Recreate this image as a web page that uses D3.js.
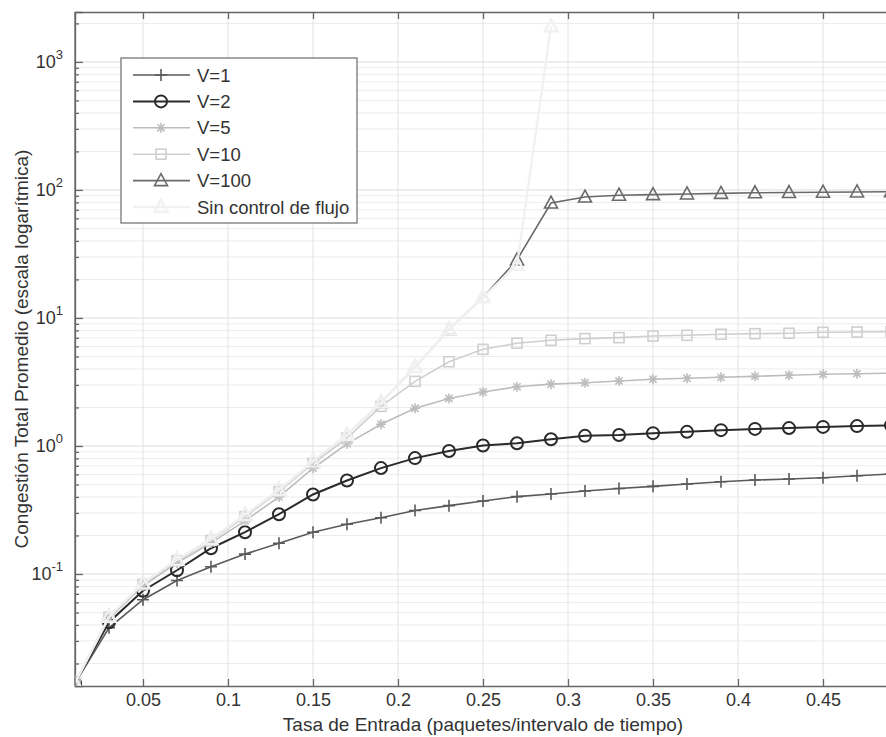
<!DOCTYPE html>
<html>
<head>
<meta charset="utf-8">
<script src="https://cdn.jsdelivr.net/npm/d3@7"></script>
<style>
  body { margin:0; background:#fff; }
  text { font-family: "Liberation Sans", Arial, sans-serif; fill:#333; }
</style>
</head>
<body>
<script>
// tasa de entrada (x) and congestion per V value
var xVals  = [0.01,0.03,0.05,0.07,0.09,0.11,0.13,0.15,0.17,0.19,0.21,0.23,0.25,0.27,0.29,0.31,0.33,0.35,0.37,0.39,0.41,0.43,0.45,0.47,0.49];
var v1     = [0.014,0.038,0.063,0.089,0.114,0.143,0.174,0.212,0.245,0.275,0.313,0.342,0.372,0.402,0.422,0.445,0.465,0.484,0.505,0.526,0.542,0.552,0.565,0.586,0.604];
var v2     = [0.014,0.042,0.074,0.107,0.159,0.212,0.293,0.418,0.538,0.672,0.804,0.914,1.01,1.05,1.13,1.2,1.22,1.26,1.29,1.33,1.36,1.38,1.41,1.43,1.45];
var v5     = [0.014,0.045,0.081,0.122,0.175,0.26,0.40,0.67,1.04,1.48,1.97,2.35,2.64,2.9,3.04,3.12,3.22,3.32,3.38,3.44,3.5,3.57,3.63,3.67,3.7];
var v10    = [0.014,0.046,0.083,0.127,0.183,0.28,0.44,0.73,1.15,2.04,3.2,4.55,5.69,6.35,6.69,6.9,7.02,7.23,7.32,7.46,7.54,7.6,7.73,7.77,7.8];
var v100   = [0.014,0.0464,0.0845,0.129,0.187,0.289,0.453,0.755,1.22,2.18,4.13,8.11,14.5,28.4,79,88,91,92,93,94,95,95.5,96,96.5,97];
var noCtrl = [0.014,0.0464,0.0845,0.129,0.187,0.289,0.453,0.755,1.22,2.18,4.13,8.11,14.5,26,1900];

var seriesNames = ["V=1","V=2","V=5","V=10","V=100","Sin control de flujo"];
var xTicks = [0.05,0.1,0.15,0.2,0.25,0.3,0.35,0.4,0.45];
var yTicks = [0.1,1,10,100,1000];

var width = 886, height = 737;
var margin = {left:75, right:-5, top:12, bottom:51};   // right edge of the axes falls outside the picture
var w = width - margin.left - margin.right;
var h = height - margin.top - margin.bottom;

var x = d3.scaleLinear().domain([0.01,0.49]).range([0,w]);
var y = d3.scaleLog().domain([0.01334,2455]).range([h,0]);

var svg = d3.select("body").append("svg").attr("width",width).attr("height",height);
svg.append("rect").attr("width",width).attr("height",height).attr("fill","#fff");

var g = svg.append("g").attr("transform","translate("+margin.left+","+margin.top+")");

g.append("clipPath").attr("id","clip").append("rect").attr("width",w).attr("height",h);

// minor values 2..9 in each decade
var minor = [];
[0.01,0.1,1,10,100,1000].forEach(function(d){
  for (var k=2;k<=9;k++){ var v=d*k; if (v>y.domain()[0] && v<y.domain()[1]) minor.push(v); }
});

// grid
var grid = g.append("g");
grid.selectAll(".gm").data(minor).enter().append("line")
    .attr("x1",0).attr("x2",w).attr("y1",function(d){return y(d);}).attr("y2",function(d){return y(d);})
    .attr("stroke","#ececec").attr("stroke-width",1);
grid.selectAll(".gy").data(yTicks).enter().append("line")
    .attr("x1",0).attr("x2",w).attr("y1",function(d){return y(d);}).attr("y2",function(d){return y(d);})
    .attr("stroke","#dcdcdc").attr("stroke-width",1);
grid.selectAll(".gx").data(xTicks).enter().append("line")
    .attr("y1",0).attr("y2",h).attr("x1",function(d){return x(d);}).attr("x2",function(d){return x(d);})
    .attr("stroke","#e2e2e2").attr("stroke-width",1);

// axes
var axisColor = "#666";
var xAxis = d3.axisBottom(x).tickValues(xTicks).tickSize(-7).tickPadding(7).tickFormat(d3.format("~g"));
var xAxisTop = d3.axisTop(x).tickValues(xTicks).tickSize(-7).tickFormat("");
var yAxis = d3.axisLeft(y).tickValues(yTicks).tickSize(-8).tickFormat("");
var yAxisMinor = d3.axisLeft(y).tickValues(minor).tickSize(-4).tickFormat("");

g.append("g").attr("class","axis x").attr("transform","translate(0,"+h+")").call(xAxis);
g.append("g").attr("class","axis xtop").call(xAxisTop);
g.append("g").attr("class","axis y").call(yAxis);
g.append("g").attr("class","axis yminor").call(yAxisMinor);
g.selectAll(".axis path, .axis line").attr("stroke",axisColor).attr("stroke-width",1.3);
g.selectAll(".axis.yminor path").remove();
g.selectAll(".axis.x text").attr("font-size",18).attr("fill","#333")
    .style("font-family","Liberation Sans, Arial, sans-serif");

// y labels as 10^n
var ylab = g.append("g");
yTicks.forEach(function(d){
  var t = ylab.append("text").attr("x",-12).attr("y",y(d)+6).attr("text-anchor","end").attr("font-size",18);
  t.append("tspan").text("10");
  t.append("tspan").attr("dy",-9).attr("font-size",13).text(Math.round(Math.log10(d)));
});

// series
var plot = g.append("g").attr("clip-path","url(#clip)");
var line = d3.line().x(function(d){return x(d[0]);}).y(function(d){return y(d[1]);});

var styles = [
  {data:v1, color:"#5a5a5a", lw:1.6, mk:"plus"},
  {data:v2, color:"#2a2a2a", lw:2,   mk:"circle"},
  {data:v5, color:"#bdbdbd", lw:1.6, mk:"star"},
  {data:v10, color:"#cfcfcf", lw:1.6, mk:"square"},
  {data:v100, color:"#6a6a6a", lw:1.6, mk:"triangle"},
  {data:noCtrl, color:"#f1f1f1", lw:2.4, mk:"triangle"}
];

function marker(sel, type, color, lw){
  if (type=="plus") {
    sel.append("path").attr("d","M-6,0H6M0,-6V6").attr("stroke",color).attr("stroke-width",lw).attr("fill","none");
  } else if (type=="circle") {
    sel.append("circle").attr("r",6).attr("stroke",color).attr("stroke-width",lw).attr("fill","none");
  } else if (type=="star") {
    sel.append("path").attr("d","M-5,0H5M0,-5V5M-3.6,-3.6L3.6,3.6M-3.6,3.6L3.6,-3.6").attr("stroke",color).attr("stroke-width",lw).attr("fill","none");
  } else if (type=="square") {
    sel.append("rect").attr("x",-5).attr("y",-5).attr("width",10).attr("height",10).attr("stroke",color).attr("stroke-width",lw).attr("fill","none");
  } else if (type=="triangle") {
    sel.append("path").attr("d","M0,-7L6.5,5H-6.5Z").attr("stroke",color).attr("stroke-width",lw).attr("fill","none");
  }
}

styles.forEach(function(s){
  var pts = s.data.map(function(v,i){ return [xVals[i], v]; });
  plot.append("path").attr("d",line(pts)).attr("fill","none").attr("stroke",s.color).attr("stroke-width",s.lw);
  pts.forEach(function(p){
    var m = plot.append("g").attr("transform","translate("+x(p[0])+","+y(p[1])+")");
    marker(m, s.mk, s.color, s.lw);
  });
});

// frame on top
g.append("line").attr("x1",0).attr("x2",0).attr("y1",0).attr("y2",h).attr("stroke",axisColor).attr("stroke-width",1.3);

// axis titles
svg.append("text").attr("x",margin.left + w/2).attr("y",731).attr("text-anchor","middle").attr("font-size",19)
   .text("Tasa de Entrada (paquetes/intervalo de tiempo)");
svg.append("text").attr("transform","translate(28,"+(margin.top+h/2)+") rotate(-90)").attr("text-anchor","middle").attr("font-size",19)
   .text("Congestión Total Promedio (escala logarítmica)");

// legend
var leg = svg.append("g").attr("transform","translate(121,58)");
leg.append("rect").attr("width",236).attr("height",165).attr("fill","#fff").attr("stroke","#777").attr("stroke-width",1.3);
styles.forEach(function(s,i){
  var yy = 17 + i*26.4;
  leg.append("line").attr("x1",12).attr("x2",69).attr("y1",yy).attr("y2",yy).attr("stroke",s.color).attr("stroke-width",s.lw);
  var m = leg.append("g").attr("transform","translate(40,"+yy+")");
  marker(m, s.mk, s.color, s.lw);
  leg.append("text").attr("x",76).attr("y",yy+6.5).attr("font-size",18.5).text(seriesNames[i]);
});
</script>
</body>
</html>
